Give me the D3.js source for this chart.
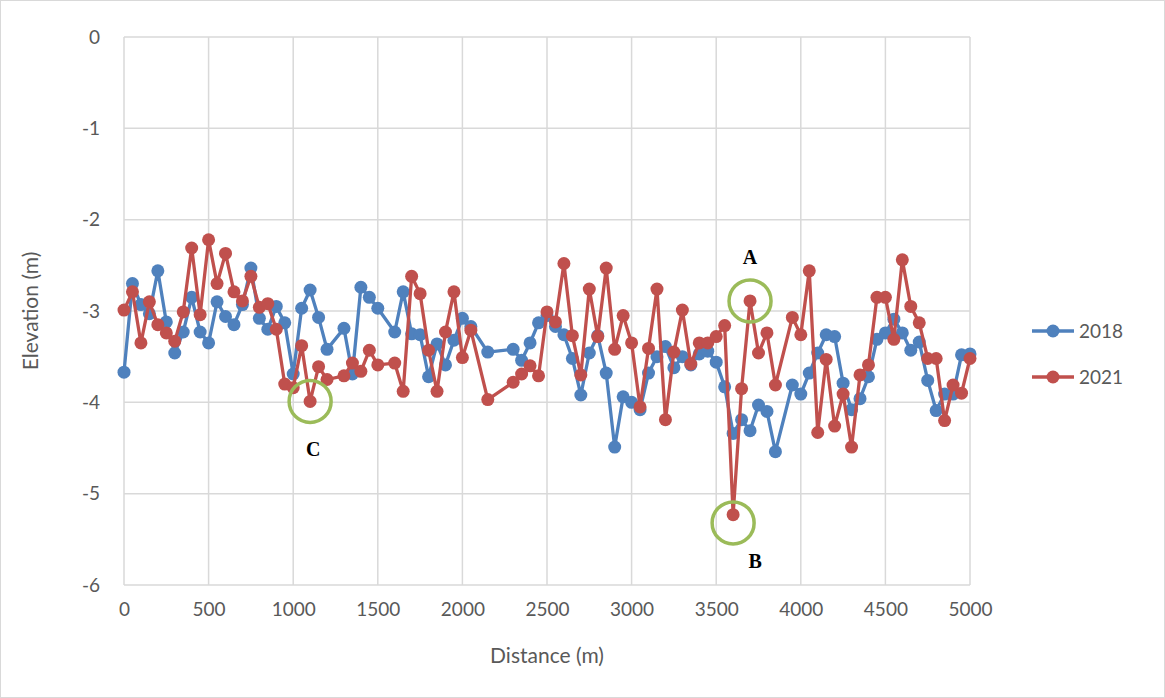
<!DOCTYPE html>
<html>
<head>
<meta charset="utf-8">
<script src="https://cdn.jsdelivr.net/npm/d3@7"></script>
<style>
  body { margin: 0; background: #fff; }
  svg text { font-family: Lato, "Open Sans", sans-serif; fill: #595959; }
</style>
</head>
<body>
<svg id="chart" width="1165" height="698"></svg>
<script>
// survey distances (m); some stations have no reading in either year
const distances = [
  0, 50, 100, 150, 200, 250, 300, 350, 400, 450, 500, 550, 600, 650, 700, 750, 800, 850, 900, 950,
  1000, 1050, 1100, 1150, 1200, 1300, 1350, 1400, 1450, 1500, 1600, 1650, 1700, 1750, 1800, 1850,
  1900, 1950, 2000, 2050, 2150, 2300, 2350, 2400, 2450, 2500, 2550, 2600, 2650, 2700, 2750, 2800,
  2850, 2900, 2950, 3000, 3050, 3100, 3150, 3200, 3250, 3300, 3350, 3400, 3450, 3500, 3550, 3600,
  3650, 3700, 3750, 3800, 3850, 3950, 4000, 4050, 4100, 4150, 4200, 4250, 4300, 4350, 4400, 4450,
  4500, 4550, 4600, 4650, 4700, 4750, 4800, 4850, 4900, 4950, 5000
];
const elev2018 = [
  -3.67, -2.70, -2.93, -3.03, -2.56, -3.12, -3.46, -3.23, -2.85, -3.23, -3.35, -2.90, -3.06, -3.15, -2.93, -2.53, -3.08, -3.20, -2.95, -3.13,
  -3.69, -2.97, -2.77, -3.07, -3.42, -3.19, -3.69, -2.74, -2.85, -2.97, -3.23, -2.79, -3.25, -3.26, -3.72, -3.36,
  -3.59, -3.32, -3.08, -3.17, -3.45, -3.42, -3.54, -3.35, -3.13, -3.05, -3.17, -3.26, -3.52, -3.92, -3.46, -3.27,
  -3.68, -4.49, -3.94, -4.00, -4.08, -3.68, -3.50, -3.39, -3.62, -3.50, -3.59, -3.47, -3.44, -3.56, -3.83, -4.34,
  -4.19, -4.31, -4.03, -4.10, -4.54, -3.81, -3.91, -3.68, -3.46, -3.26, -3.28, -3.79, -4.08, -3.96, -3.72, -3.31,
  -3.24, -3.09, -3.24, -3.43, -3.34, -3.76, -4.09, -3.91, -3.91, -3.48, -3.47
];
const elev2021 = [
  -2.99, -2.79, -3.35, -2.90, -3.15, -3.24, -3.33, -3.01, -2.31, -3.04, -2.22, -2.70, -2.37, -2.79, -2.89, -2.62, -2.96, -2.92, -3.20, -3.80,
  -3.84, -3.38, -3.99, -3.61, -3.75, -3.71, -3.57, -3.66, -3.43, -3.59, -3.57, -3.88, -2.62, -2.81, -3.43, -3.88,
  -3.23, -2.79, -3.51, -3.21, -3.97, -3.78, -3.69, -3.60, -3.71, -3.01, -3.12, -2.48, -3.27, -3.70, -2.76, -3.28,
  -2.53, -3.42, -3.05, -3.35, -4.05, -3.41, -2.76, -4.19, -3.45, -2.99, -3.58, -3.35, -3.35, -3.28, -3.16, -5.23,
  -3.85, -2.89, -3.46, -3.24, -3.81, -3.07, -3.26, -2.56, -4.33, -3.53, -4.26, -3.91, -4.49, -3.70, -3.59, -2.85,
  -2.85, -3.31, -2.44, -2.95, -3.13, -3.52, -3.52, -4.20, -3.81, -3.90, -3.52
];
const xTicks = [0, 500, 1000, 1500, 2000, 2500, 3000, 3500, 4000, 4500, 5000];
const yTicks = [0, -1, -2, -3, -4, -5, -6];
const seriesNames = ["2018", "2021"];
const seriesColors = ["#4F81BD", "#C0504D"];
// marked points: label, distance, elevation of circle centre, label offset
const marks = [
  { label: "A", d: 3700, v: -2.89, dx: 0, dy: -37 },
  { label: "B", d: 3600, v: -5.32, dx: 22, dy: 45 },
  { label: "C", d: 1100, v: -3.99, dx: 3, dy: 55 }
];

const svg = d3.select('#chart');
const margin = { top: 37, left: 124, right: 195, bottom: 113 };
const W = +svg.attr('width'), H = +svg.attr('height');

svg.append('rect')
  .attr('x', 0.5).attr('y', 0.5)
  .attr('width', W - 1).attr('height', H - 1)
  .attr('fill', '#fff').attr('stroke', '#d9d9d9');

const x = d3.scaleLinear().domain([0, 5000]).range([margin.left, W - margin.right]);
const y = d3.scaleLinear().domain([-6, 0]).range([H - margin.bottom, margin.top]);

// gridlines
svg.append('g').selectAll('line').data(yTicks).join('line')
  .attr('x1', x(0)).attr('x2', x(5000))
  .attr('y1', d => y(d)).attr('y2', d => y(d))
  .attr('stroke', '#d9d9d9').attr('stroke-width', 1.5);
svg.append('g').selectAll('line').data(xTicks).join('line')
  .attr('x1', d => x(d)).attr('x2', d => x(d))
  .attr('y1', y(0)).attr('y2', y(-6))
  .attr('stroke', '#d9d9d9').attr('stroke-width', 1.5);

// axes (labels only, like the Excel look)
const xAxis = svg.append('g')
  .attr('transform', 'translate(0,' + (y(-6) + 14) + ')')
  .call(d3.axisBottom(x).tickValues(xTicks).tickSize(0).tickFormat(d3.format('d')));
const yAxis = svg.append('g')
  .attr('transform', 'translate(' + (x(0) - 21) + ',0)')
  .call(d3.axisLeft(y).tickValues(yTicks).tickSize(0).tickFormat(d => d === 0 ? '0' : '-' + Math.abs(d)));
[xAxis, yAxis].forEach(a => {
  a.select('.domain').remove();
  a.selectAll('text').attr('font-size', 19).attr('font-family', 'Lato, sans-serif').attr('fill', '#595959');
});

svg.append('text')
  .attr('x', (x(0) + x(5000)) / 2).attr('y', 663)
  .attr('text-anchor', 'middle').attr('font-size', 21)
  .text('Distance (m)');
svg.append('text')
  .attr('transform', 'translate(38,' + (y(-3)) + ') rotate(-90)')
  .attr('text-anchor', 'middle').attr('font-size', 21)
  .text('Elevation (m)');

// series
const line = d3.line().x(d => x(d[0])).y(d => y(d[1]));
[elev2018, elev2021].forEach((vals, i) => {
  const pts = distances.map((d, j) => [d, vals[j]]);
  const g = svg.append('g');
  g.append('path').datum(pts)
    .attr('d', line).attr('fill', 'none')
    .attr('stroke', seriesColors[i]).attr('stroke-width', 3.3)
    .attr('stroke-linejoin', 'round');
  g.selectAll('circle').data(pts).join('circle')
    .attr('cx', d => x(d[0])).attr('cy', d => y(d[1]))
    .attr('r', 6.5).attr('fill', seriesColors[i]);
});

// annotation circles and letters
marks.forEach(m => {
  svg.append('circle')
    .attr('cx', x(m.d)).attr('cy', y(m.v)).attr('r', 21)
    .attr('fill', 'none').attr('stroke', '#9BBB59').attr('stroke-width', 3.5);
  svg.append('text')
    .attr('x', x(m.d) + m.dx)
    .attr('y', y(m.v) + m.dy)
    .attr('text-anchor', 'middle')
    .style('font-family', '"Liberation Serif", "DejaVu Serif", serif')
    .style('font-weight', 'bold').style('font-size', '20px')
    .style('fill', '#000')
    .text(m.label);
});

// legend
const legend = svg.append('g').attr('transform', 'translate(1032,331)');
seriesNames.forEach((name, i) => {
  const g = legend.append('g').attr('transform', 'translate(0,' + i * 46 + ')');
  g.append('line').attr('x1', 0).attr('x2', 42).attr('y1', 0).attr('y2', 0)
    .attr('stroke', seriesColors[i]).attr('stroke-width', 3.3);
  g.append('circle').attr('cx', 21).attr('cy', 0).attr('r', 6.5).attr('fill', seriesColors[i]);
  g.append('text').attr('x', 47).attr('y', 0).attr('dy', '0.35em')
    .attr('font-size', 19).text(name);
});
</script>
</body>
</html>
